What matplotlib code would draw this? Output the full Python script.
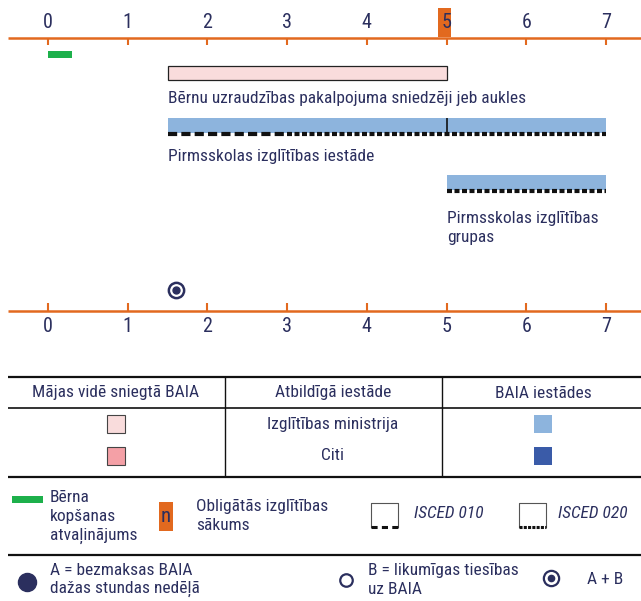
import matplotlib
matplotlib.use("Agg")
import matplotlib.pyplot as plt
from matplotlib.patches import Rectangle

plt.rcParams['font.family'] = ['Roboto Condensed', 'DejaVu Sans']

# timeline data (age in years)
years = [0, 1, 2, 3, 4, 5, 6, 7]
compulsory_start = 5
leave = (0.0, 0.3)            # child-care leave
minders = (1.5, 5.0)          # childminders
preschool = (1.5, 7.0)        # pre-school institutions
preschool_split = 5.0
isced010 = (1.5, 3.0)
isced020 = (3.0, 7.0)
groups = (5.0, 7.0)           # pre-school groups
groups_isced020 = (5.0, 7.0)
entitlement_age = 1.6         # A + B

bar_labels = ["Bērnu uzraudzības pakalpojuma sniedzēji jeb aukles",
              "Pirmsskolas izglītības iestāde",
              "Pirmsskolas izglītības\ngrupas"]
table_head = ["Mājas vidē sniegtā BAIA", "Atbildīgā iestāde", "BAIA iestādes"]
table_rows = ["Izglītības ministrija", "Citi"]

ORANGE = "#e2691f"
NAVY = "#2b2f5e"
GREEN = "#1db04b"
PINK_L = "#f9dcdc"
PINK_D = "#f4a0a6"
BLUE_L = "#8db4dd"
BLUE_D = "#3a5ba8"
FS = 12.5

fig = plt.figure(figsize=(6.41, 6.01), dpi=100)
# timeline axes: x in years, y in pixel rows
ax = fig.add_axes([0, 0, 1, 1])
px = 79.71
ax.set_xlim(-48 / px, (641 - 48) / px)
ax.set_ylim(601, 0)
ax.axis("off")

# legend axes in pixels
lg = fig.add_axes([0, 0, 1, 1])
lg.set_xlim(0, 641)
lg.set_ylim(601, 0)
lg.axis("off")
lg.patch.set_alpha(0)

x0 = (8 - 48) / px
x1 = (641 - 48) / px

# top axis
ax.add_patch(Rectangle((compulsory_start - 0.11, 8), 0.165, 29, color=ORANGE, lw=0, zorder=1))
ax.hlines(38, x0, x1, color=ORANGE, lw=1.8, zorder=2)
ax.vlines(years, 38, 45, color=ORANGE, lw=1.5)
for y in years:
    ax.text(y, 22, str(y), ha="center", va="center", fontsize=14.5, color=NAVY, zorder=3)

# bottom axis
ax.hlines(311, x0, x1, color=ORANGE, lw=1.8)
ax.vlines(years, 303, 311, color=ORANGE, lw=1.5)
for y in years:
    ax.text(y, 327, str(y), ha="center", va="center", fontsize=14.5, color=NAVY)

# bars
ax.barh(54.5, leave[1] - leave[0], left=leave[0], height=7, color=GREEN, lw=0)
ax.barh(73, minders[1] - minders[0], left=minders[0], height=14,
        color=PINK_L, edgecolor="#222222", lw=0.9)
ax.text(minders[0] + 0.01, 98, bar_labels[0], ha="left", va="center",
        fontsize=FS, color=NAVY)

ax.barh(125.5, preschool[1] - preschool[0], left=preschool[0], height=15, color=BLUE_L, lw=0)
ax.vlines(preschool_split, 118, 134, color="#111111", lw=1.2)
ax.hlines(134, isced010[0], isced010[1], color="#111111", lw=3, linestyles=(0, (2.2, 1.0)))
ax.hlines(134, isced020[0], isced020[1], color="#111111", lw=3, linestyles=(0, (1.2, 0.6)))
ax.text(preschool[0] + 0.01, 157, bar_labels[1], ha="left", va="center",
        fontsize=FS, color=NAVY)

ax.barh(182.5, groups[1] - groups[0], left=groups[0], height=15, color=BLUE_L, lw=0)
ax.hlines(191, groups_isced020[0], groups_isced020[1], color="#111111", lw=3,
          linestyles=(0, (1.2, 0.6)))
ax.text(groups[0] + 0.01, 228, bar_labels[2], ha="left", va="center",
        fontsize=FS, color=NAVY, linespacing=1.35)

# entitlement marker
ax.plot(entitlement_age, 290, "o", ms=11, mfc="white", mec=NAVY, mew=1.8)
ax.plot(entitlement_age, 290, "o", ms=5, color=NAVY)

# table
lg.hlines([377, 477], 8, 641, color="#111111", lw=1.6)
lg.hlines(408, 8, 641, color="#111111", lw=1.2)
lg.vlines([225, 442], 377, 477, color="#111111", lw=1.0)
for cx, t in zip([116, 333, 543], table_head):
    lg.text(cx, 393, t, ha="center", va="center", fontsize=FS, color=NAVY)
for ry, t, pc, bc in zip([424, 456], table_rows, [PINK_L, PINK_D], [BLUE_L, BLUE_D]):
    lg.text(333, ry, t, ha="center", va="center", fontsize=FS, color=NAVY)
    lg.add_patch(Rectangle((107, ry - 9), 18, 18, facecolor=pc, edgecolor="#444444", lw=0.8))
    lg.add_patch(Rectangle((534, ry - 9), 18, 18, facecolor=bc, lw=0))

# legend row 1
lg.add_patch(Rectangle((12, 496), 31, 7, color=GREEN, lw=0))
lg.text(50, 517, "Bērna\nkopšanas\natvaļinājums", ha="left", va="center",
        fontsize=FS, color=NAVY, linespacing=1.3)
lg.add_patch(Rectangle((159, 502), 14, 29, color=ORANGE, lw=0))
lg.text(166, 516, "n", ha="center", va="center", fontsize=15, color=NAVY)
lg.text(196, 516, "Obligātās izglītības\nsākums", ha="left", va="center",
        fontsize=FS, color=NAVY, linespacing=1.3)

for bx, tx, lab, ls in [(371, 414, "ISCED 010", (0, (2.0, 1.4))),
                        (519, 558, "ISCED 020", (0, (1.0, 0.4)))]:
    lg.plot([bx, bx, bx + 27, bx + 27], [527, 503, 503, 527], color="#555555", lw=0.8)
    lg.hlines(527, bx, bx + 27, color="#111111", lw=2.2, linestyles=ls)
    lg.text(tx, 514, lab, ha="left", va="center", fontsize=FS, color=NAVY, style="italic")

# legend row 2
lg.hlines(555, 8, 641, color="#111111", lw=1.6)
lg.plot(27, 582, "o", ms=13, color=NAVY)
lg.text(50, 580, "A = bezmaksas BAIA\ndažas stundas nedēļā", ha="left", va="center",
        fontsize=FS, color=NAVY, linespacing=1.3)
lg.plot(346, 580, "o", ms=9, mfc="white", mec=NAVY, mew=1.6)
lg.text(368, 580, "B = likumīgas tiesības\nuz BAIA", ha="left", va="center",
        fontsize=FS, color=NAVY, linespacing=1.3)
lg.plot(551, 578, "o", ms=11, mfc="white", mec=NAVY, mew=1.6)
lg.plot(551, 578, "o", ms=4.5, color=NAVY)
lg.text(587, 579, "A + B", ha="left", va="center", fontsize=FS, color=NAVY)

fig.savefig("out.png", dpi=100)
